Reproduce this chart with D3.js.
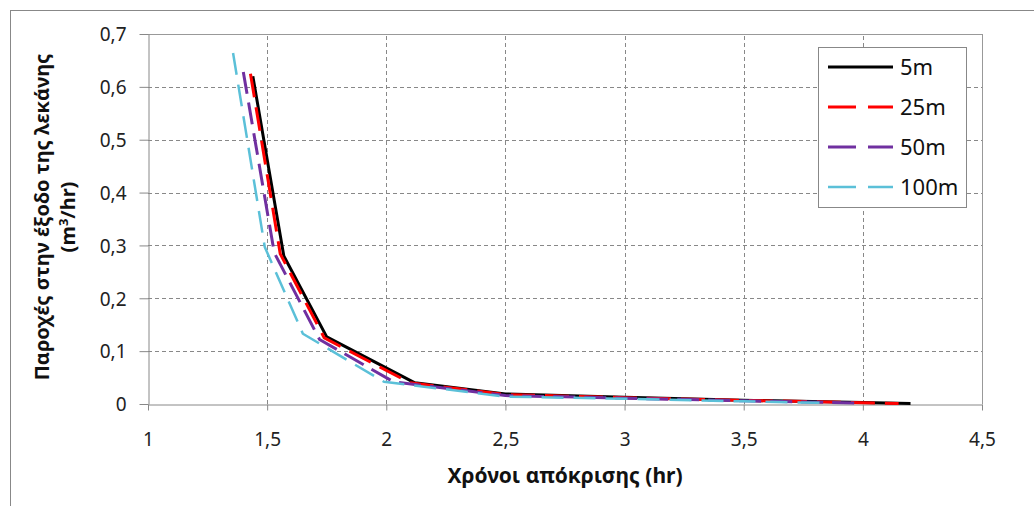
<!DOCTYPE html>
<html><head><meta charset="utf-8">
<script src="https://cdn.jsdelivr.net/npm/d3@7"></script>
<style>body{margin:0;background:#fff;} text{font-family:"Noto Sans",sans-serif;}</style>
</head><body>
<svg id="c" width="1034" height="506"></svg>
<script>
const seriesNames = ["5m","25m","50m","100m"];
const s5m   = [[1.44,0.62],[1.57,0.28],[1.75,0.127],[2.12,0.04],[2.5,0.019],[3.0,0.013],[3.5,0.007],[4.0,0.003],[4.2,0.001]];
const s25m  = [[1.43,0.625],[1.555,0.284],[1.74,0.125],[2.1,0.04],[2.5,0.018],[3.0,0.012],[3.5,0.007],[4.15,0.001]];
const s50m  = [[1.40,0.628],[1.53,0.286],[1.72,0.122],[2.03,0.042],[2.5,0.016],[3.0,0.011],[3.5,0.006],[3.97,0.002]];
const s100m = [[1.357,0.664],[1.49,0.297],[1.65,0.133],[1.99,0.042],[2.5,0.014],[3.0,0.010],[3.5,0.005],[3.85,0.002]];
const xTicks = [1,1.5,2,2.5,3,3.5,4,4.5];
const yTicks = [0,0.1,0.2,0.3,0.4,0.5,0.6,0.7];
const xTitle = "Χρόνοι απόκρισης (hr)";
const yTitle1 = "Παροχές στην έξοδο της λεκάνης";

const data = [s5m,s25m,s50m,s100m];
const colors = ["#000000","#ff0000","#7030a0","#5bc0d8"];
const widths = [3,3,3,2.5];
const dashes = [null,"24,10","22,9","22,10"];

const svg = d3.select("#c");
const fmt = d => String(d).replace(".",",");
// outer border
svg.append("rect").attr("x",10.5).attr("y",10.5).attr("width",1040).attr("height",520)
  .attr("fill","none").attr("stroke","#888").attr("stroke-width",1);

const x = d3.scaleLinear().domain([1,4.5]).range([148,982]);
const y = d3.scaleLinear().domain([0,0.7]).range([404,34]);

const g = svg.append("g");
// gridlines
g.selectAll(".hg").data(yTicks.filter(v=>v>0 && v<0.7)).join("line")
  .attr("x1",x(1)).attr("x2",x(4.5)).attr("y1",d=>Math.round(y(d))+0.5).attr("y2",d=>Math.round(y(d))+0.5)
  .attr("stroke","#888").attr("stroke-dasharray","4,3");
g.selectAll(".vg").data(xTicks.filter(v=>v>1 && v<4.5)).join("line")
  .attr("y1",y(0)).attr("y2",y(0.7)).attr("x1",d=>Math.round(x(d))+0.5).attr("x2",d=>Math.round(x(d))+0.5)
  .attr("stroke","#888").attr("stroke-dasharray","4,3");
// plot border top/right
g.append("line").attr("x1",x(1)).attr("x2",x(4.5)).attr("y1",Math.round(y(0.7))+0.5).attr("y2",Math.round(y(0.7))+0.5).attr("stroke","#999");
g.append("line").attr("x1",Math.round(x(4.5))+0.5).attr("x2",Math.round(x(4.5))+0.5).attr("y1",y(0)).attr("y2",y(0.7)).attr("stroke","#999");

// axes
const xa = svg.append("g").attr("transform",`translate(0,${Math.round(y(0))+0.5})`)
  .call(d3.axisBottom(x).tickValues(xTicks).tickFormat(fmt).tickSize(6).tickSizeOuter(0));
const ya = svg.append("g").attr("transform",`translate(${Math.round(x(1))+0.5},0)`)
  .call(d3.axisLeft(y).tickValues(yTicks).tickFormat(fmt).tickSize(9).tickSizeOuter(0));
[xa,ya].forEach(a=>{
  a.select(".domain").attr("stroke","#888");
  a.selectAll(".tick line").attr("stroke","#888");
  a.selectAll(".tick text").attr("font-family","Noto Sans").attr("font-size",19).attr("fill","#222");
});
xa.selectAll(".tick text").attr("y",41).attr("dy",0);
ya.selectAll(".tick text").attr("x",-22).attr("dy","0.36em");

// lines
const line = d3.line().x(d=>x(d[0])).y(d=>y(d[1]));
data.forEach((s,i)=>{
  svg.append("path").datum(s).attr("d",line).attr("fill","none")
    .attr("stroke",colors[i]).attr("stroke-width",widths[i])
    .attr("stroke-dasharray",dashes[i]).attr("stroke-linejoin","round");
});

// titles
svg.append("text").attr("x",565).attr("y",483).attr("text-anchor","middle")
  .attr("font-size",21).attr("font-weight","bold").attr("fill","#111").text(xTitle);
const yt = svg.append("text").attr("transform","translate(0,217) rotate(-90)")
  .attr("text-anchor","middle").attr("font-size",20).attr("font-weight","bold").attr("fill","#111");
yt.append("tspan").attr("x",0).attr("y",49).text(yTitle1);
yt.append("tspan").attr("x",0).attr("y",75).text("(m");
yt.append("tspan").attr("dy",-7).attr("font-size",13).text("3");
yt.append("tspan").attr("dy",7).text("/hr)");

// legend
const lg = svg.append("g");
lg.append("rect").attr("x",818.5).attr("y",47.5).attr("width",148).attr("height",160)
  .attr("fill","#fff").attr("stroke","#888");
seriesNames.forEach((n,i)=>{
  const yy = 67 + i*40;
  lg.append("line").attr("x1",828).attr("x2",893).attr("y1",yy).attr("y2",yy)
    .attr("stroke",colors[i]).attr("stroke-width",widths[i]).attr("stroke-dasharray",dashes[i]?"28,12":null);
  lg.append("text").attr("x",900).attr("y",yy+8).attr("font-size",22).attr("fill","#111").text(n);
});
</script>
</body></html>
